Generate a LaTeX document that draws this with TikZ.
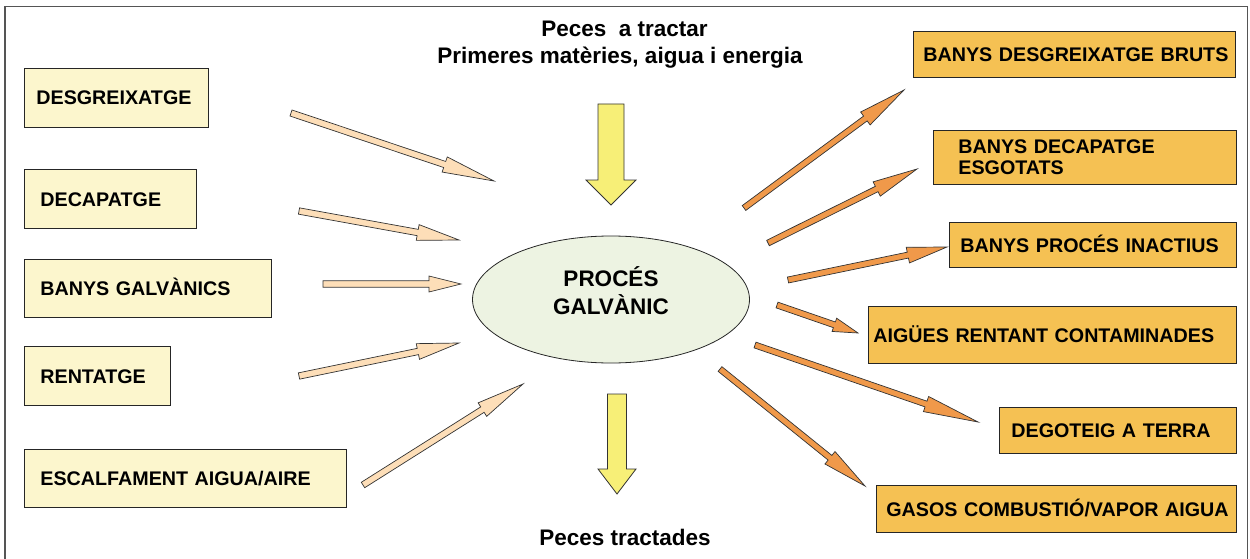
\documentclass[tikz,border=0pt]{standalone}
\usepackage{fontspec}
\setmainfont{Liberation Sans}
\usetikzlibrary{calc,shapes.geometric}
\definecolor{lyel}{HTML}{FCF6CD}
\definecolor{obox}{HTML}{F5C153}
\definecolor{ellc}{HTML}{EDF3E2}
\definecolor{peach}{HTML}{FDDEB8}
\definecolor{oarr}{HTML}{F0994A}
\definecolor{yarr}{HTML}{F7EF77}
\definecolor{framec}{HTML}{555555}
% tail, tip, head length, shaft half width, head half width, style
\newcommand\blockarr[6]{%
  \coordinate (hb) at ($(#2)!#3!(#1)$);
  \filldraw[#6] ($(#1)!#4!90:(#2)$) -- ($(hb)!#4!90:(#2)$) -- ($(hb)!#5!90:(#2)$) -- (#2)
     -- ($(hb)!#5!-90:(#2)$) -- ($(hb)!#4!-90:(#2)$) -- ($(#1)!#4!-90:(#2)$) -- cycle;}
\tikzset{
  boxtxt/.style={font=\bfseries\fontsize{19.7}{20.5}\selectfont, align=left, anchor=north west,
     inner ysep=0pt, text height=14.2pt, text depth=0pt},
  lbox/.style={boxtxt, draw=black!85, line width=0.8pt, fill=lyel},
  rbox/.style={boxtxt, draw=black!85, line width=0.8pt, fill=obox},
  titletxt/.style={font=\bfseries\fontsize{22.5}{27}\selectfont, anchor=base, inner sep=0pt},
  inarr/.style={fill=peach, draw=black!80, line width=0.7pt, line join=miter},
  outarr/.style={fill=oarr, draw=black!80, line width=0.7pt, line join=miter},
  bigarr/.style={fill=yarr, draw=black!80, line width=0.8pt, line join=miter},
}
\begin{document}
\begin{tikzpicture}[x=1pt,y=-1pt]
\useasboundingbox (0,0) rectangle (1250,559);
\draw[framec, line width=1.5pt] (5,565) -- (5,6.5) -- (1247.5,6.5) -- (1247.5,565);

% titles
\node[titletxt] (t1) at (624.5,37) {Peces\ \ a tractar};
\node[titletxt] (t2) at (620,64) {Primeres matèries, aigua i energia};
\node[titletxt] (t3) at (625,545) {Peces tractades};

% central process
\node[ellipse, draw=black!85, line width=0.8pt, fill=ellc, minimum width=277pt, minimum height=127pt, inner sep=0pt] (proc) at (611,299.5) {};
\node[font=\bfseries\fontsize{22.5}{28}\selectfont, align=center, inner sep=0pt] (proct) at (611,291) {PROCÉS\\GALVÀNIC};

% left boxes
\node[lbox, minimum height=59pt, inner xsep=12pt, text width=160pt] (l1) at (24,68) {DESGREIXATGE};
\node[lbox, minimum height=59pt, inner xsep=16pt, text width=140pt] (l2) at (24,169) {DECAPATGE};
\node[lbox, minimum height=58pt, inner xsep=16pt, text width=215pt] (l3) at (24,259) {BANYS GALVÀNICS};
\node[lbox, minimum height=59pt, inner xsep=16pt, text width=114pt] (l4) at (24,346) {\mbox{RENTATGE}};
\node[lbox, minimum height=58pt, inner xsep=16pt, text width=290pt] (l5) at (24,449) {\mbox{ESCALFAMENT AIGUA/AIRE}};

% right boxes
\node[rbox, minimum height=46pt, inner xsep=10pt, text width=302pt] (r1) at (913,31) {\mbox{BANYS DESGREIXATGE BRUTS}};
\node[rbox, minimum height=54pt, inner xsep=25pt, text width=253pt, text height=, text depth=] (r2) at (933,130) {BANYS DECAPATGE\\ESGOTATS};
\node[rbox, minimum height=45pt, inner xsep=11pt, text width=265pt] (r3) at (949,222) {\mbox{BANYS PROCÉS INACTIUS}};
\node[rbox, minimum height=57pt, inner xsep=5pt, text width=358pt] (r4) at (868,306) {\mbox{AIGÜES RENTANT CONTAMINADES}};
\node[rbox, minimum height=46pt, inner xsep=12pt, text width=213pt] (r5) at (999,407) {\mbox{DEGOTEIG A TERRA}};
\node[rbox, minimum height=47pt, inner xsep=10pt, text width=340pt] (r6) at (876,485) {\mbox{GASOS COMBUSTIÓ/VAPOR AIGUA}};

% arrow end points
\coordinate (a1s) at (291,113); \coordinate (a1e) at (494,181);
\coordinate (a2s) at (299,211); \coordinate (a2e) at (459,240);
\coordinate (a3s) at (323,284); \coordinate (a3e) at (461,284);
\coordinate (a4s) at (299,376); \coordinate (a4e) at (459,343);
\coordinate (a5s) at (363,485); \coordinate (a5e) at (523,384);
\coordinate (b1s) at (744,208); \coordinate (b1e) at (904,90);
\coordinate (b2s) at (768,243); \coordinate (b2e) at (917,169);
\coordinate (b3s) at (788,280); \coordinate (b3e) at (947,247);
\coordinate (b4s) at (777,305); \coordinate (b4e) at (858,333);
\coordinate (b5s) at (755,345); \coordinate (b5e) at (978,422);
\coordinate (b6s) at (720,369); \coordinate (b6e) at (865,486);
\coordinate (yts) at (611,104); \coordinate (yte) at (611,205);
\coordinate (ybs) at (617,394); \coordinate (ybe) at (617,494);

% inputs
\blockarr{a1s}{a1e}{52pt}{3.2pt}{8pt}{inarr}
\blockarr{a2s}{a2e}{42pt}{3.2pt}{8pt}{inarr}
\blockarr{a3s}{a3e}{32pt}{3.2pt}{8pt}{inarr}
\blockarr{a4s}{a4e}{42pt}{3.2pt}{8pt}{inarr}
\blockarr{a5s}{a5e}{48pt}{3.2pt}{8pt}{inarr}
% outputs
\blockarr{b1s}{b1e}{48pt}{3pt}{8pt}{outarr}
\blockarr{b2s}{b2e}{45pt}{3pt}{8pt}{outarr}
\blockarr{b3s}{b3e}{40pt}{3pt}{8pt}{outarr}
\blockarr{b4s}{b4e}{25pt}{3pt}{7pt}{outarr}
\blockarr{b5s}{b5e}{55pt}{3pt}{8pt}{outarr}
\blockarr{b6s}{b6e}{45pt}{3pt}{8pt}{outarr}
% big yellow arrows
\blockarr{yts}{yte}{25pt}{13pt}{25pt}{bigarr}
\blockarr{ybs}{ybe}{25pt}{9.5pt}{19pt}{bigarr}
\end{tikzpicture}
\end{document}
